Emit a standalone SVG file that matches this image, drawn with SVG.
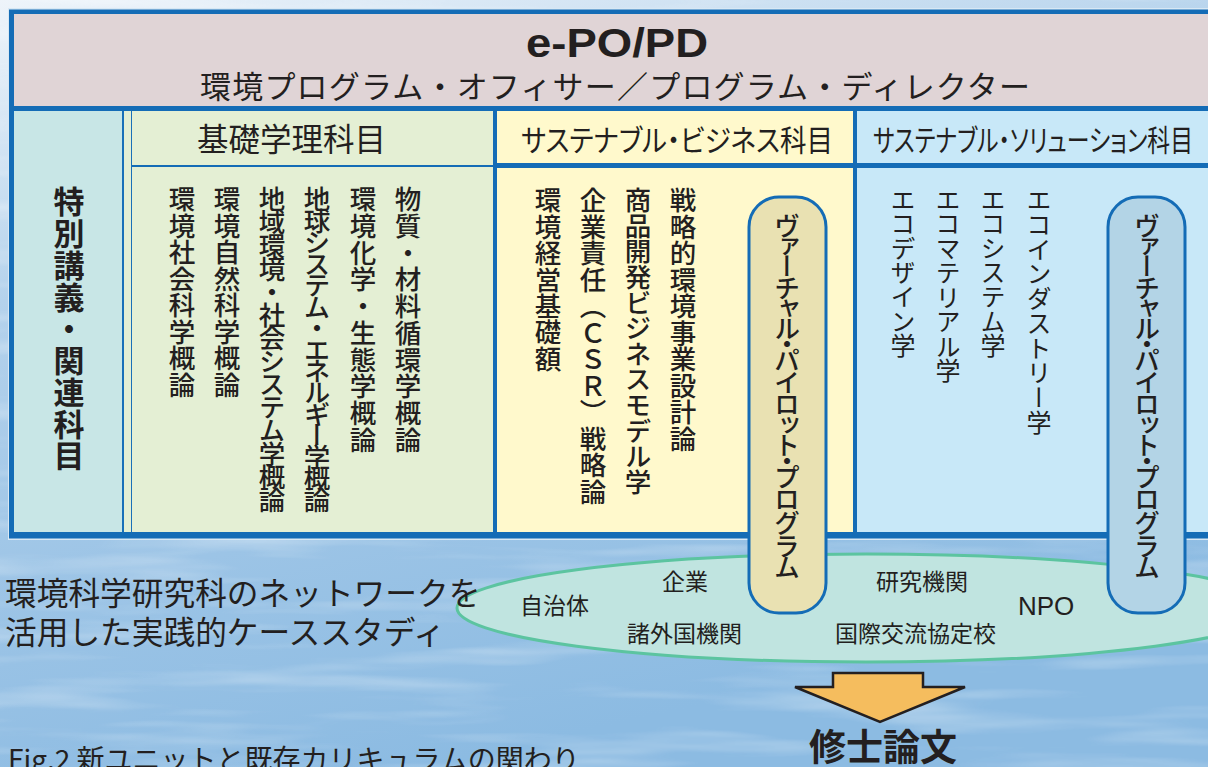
<svg xmlns="http://www.w3.org/2000/svg" width="1208" height="767" viewBox="0 0 1208 767">
<defs>
<linearGradient id="sea" x1="0" y1="0" x2="0.35" y2="1">
<stop offset="0" stop-color="#eef4fa"/>
<stop offset="0.35" stop-color="#b4d2ec"/>
<stop offset="0.7" stop-color="#9cc4e6"/>
<stop offset="1" stop-color="#8cbbe2"/>
</linearGradient>
<filter id="waves" x="0" y="0" width="100%" height="100%">
<feTurbulence type="fractalNoise" baseFrequency="0.004 0.045" numOctaves="3" seed="7"/>
<feColorMatrix type="matrix" values="0 0 0 0 1  0 0 0 0 1  0 0 0 0 1  0 0 0 2.2 -1.05"/>
</filter>
<style>
.jp{font-family:"Noto Sans CJK JP","Noto Sans CJK SC",sans-serif;fill:#231f20}
.lat{font-family:"Liberation Sans",Arial,sans-serif;fill:#231f20}
.v{writing-mode:vertical-rl}
.frame{fill:#146cb6}
.g{font-size:26.5px;font-weight:500}
.b{font-size:26.5px;font-weight:500}
.s{font-size:25px;font-weight:400}
.pill{stroke:#146cb6;stroke-width:3}
.pt{font-size:26px;font-weight:500;font-feature-settings:"vpal"}
.el{font-size:23px}
</style>
</defs>
<rect x="0" y="0" width="1208" height="767" fill="url(#sea)"/>
<rect x="0" y="0" width="1208" height="767" filter="url(#waves)" opacity="0.35"/>

<g id="frame">
<rect x="8" y="8" width="1210" height="532" fill="#d8e8f4"/>
<rect x="9" y="9.5" width="1210" height="529" class="frame"/>
</g>

<g id="header">
<rect x="14" y="14" width="1204" height="92" fill="#e0d4d6"/>
<text class="lat" x="617" y="57" font-size="40" font-weight="bold" text-anchor="middle" textLength="182" lengthAdjust="spacingAndGlyphs">e-PO/PD</text>
<text class="jp" x="615" y="98" font-size="31" text-anchor="middle" textLength="830" lengthAdjust="spacing">環境プログラム・オフィサー／プログラム・ディレクター</text>
</g>

<g id="special">
<rect x="14" y="111" width="108" height="421" fill="#c8e6e6"/>
<rect x="122" y="111" width="10" height="421" fill="#1a70b8"/>
<rect x="124" y="111" width="7" height="421" fill="#e4efd4"/>
<text class="jp v" x="69" y="186" font-size="31" font-weight="bold" textLength="285" lengthAdjust="spacing">特別講義・関連科目</text>
</g>

<g id="basic">
<rect x="132" y="111" width="361" height="54" fill="#e4efd4"/>
<rect x="132" y="167" width="361" height="365" fill="#e4efd4"/>
<text class="jp" x="197" y="151" font-size="31.5">基礎学理科目</text>
<text class="jp v g" x="408" y="186" textLength="267" lengthAdjust="spacing">物質・材料循環学概論</text>
<text class="jp v g" x="363" y="186" textLength="267" lengthAdjust="spacing">環境化学・生態学概論</text>
<text class="jp v g" x="317" y="186" textLength="327" lengthAdjust="spacing">地球システム・エネルギー学概論</text>
<text class="jp v g" x="272" y="186" textLength="327" lengthAdjust="spacing">地域環境・社会システム学概論</text>
<text class="jp v g" x="227" y="186" textLength="212" lengthAdjust="spacing">環境自然科学概論</text>
<text class="jp v g" x="182" y="186" textLength="212" lengthAdjust="spacing">環境社会科学概論</text>
</g>

<g id="business">
<rect x="497" y="111" width="356" height="52" fill="#fff9cc"/>
<rect x="497" y="168" width="356" height="364" fill="#fff9cc"/>
<text class="jp" x="521" y="151" font-size="30" textLength="312" lengthAdjust="spacingAndGlyphs" style="font-feature-settings:'palt'">サステナブル・ビジネス科目</text>
<text class="jp v b" x="683" y="187" textLength="265" lengthAdjust="spacing">戦略的環境事業設計論</text>
<text class="jp v b" x="638" y="187" textLength="308" lengthAdjust="spacing">商品開発ビジネスモデル学</text>
<text class="jp v b" x="593" y="187" textLength="318" lengthAdjust="spacing">企業責任（ＣＳＲ）戦略論</text>
<text class="jp v b" x="548" y="187" textLength="185" lengthAdjust="spacing">環境経営基礎額</text>
</g>

<g id="solution">
<rect x="857" y="111" width="361" height="52" fill="#c8e8f8"/>
<rect x="857" y="168" width="361" height="364" fill="#c8e8f8"/>
<text class="jp" x="873" y="151" font-size="30" textLength="320" lengthAdjust="spacingAndGlyphs" style="font-feature-settings:'palt'">サステナブル・ソリューション科目</text>
<text class="jp v s" x="1039" y="187" textLength="248" lengthAdjust="spacing">エコインダストリー学</text>
<text class="jp v s" x="993" y="187" textLength="171" lengthAdjust="spacing">エコシステム学</text>
<text class="jp v s" x="948" y="187" textLength="196" lengthAdjust="spacing">エコマテリアル学</text>
<text class="jp v s" x="903" y="187" textLength="171" lengthAdjust="spacing">エコデザイン学</text>
</g>

<g id="network">
<ellipse cx="866" cy="608" rx="409" ry="54" fill="#c0e4e0" stroke="#5cc4a0" stroke-width="3"/>
<text class="jp el" x="520" y="614">自治体</text>
<text class="jp el" x="662" y="590">企業</text>
<text class="jp el" x="876" y="590">研究機関</text>
<text class="lat" x="1018" y="615" font-size="26">NPO</text>
<text class="jp el" x="627" y="642">諸外国機関</text>
<text class="jp el" x="835" y="642">国際交流協定校</text>
</g>

<g id="pilot-business">
<rect class="pill" x="749" y="197" width="77" height="416" rx="30" fill="#e9e1b2"/>
<text class="jp v pt" x="787" y="213" textLength="367" lengthAdjust="spacing">ヴァーチャル・パイロット・プログラム</text>
</g>

<g id="pilot-solution">
<rect class="pill" x="1108" y="197" width="77" height="416" rx="30" fill="#b3d4e6"/>
<text class="jp v pt" x="1147" y="213" textLength="367" lengthAdjust="spacing">ヴァーチャル・パイロット・プログラム</text>
</g>

<g id="casestudy">
<text class="jp" x="5" y="605" font-size="31.7">環境科学研究科のネットワークを</text>
<text class="jp" x="5" y="644" font-size="31.7">活用した実践的ケーススタディ</text>
</g>

<g id="connectors">
<polygon points="833,673 923,673 923,687 965,687 880,722 795,687 833,687" fill="#f5bd5e" stroke="#231f20" stroke-width="2.5" stroke-linejoin="miter"/>
</g>

<g id="thesis">
<text class="jp" x="883" y="761" font-size="37" font-weight="bold" text-anchor="middle">修士論文</text>
</g>

<g id="caption">
<text class="jp" x="8" y="770" font-size="28">Fig.2  新ユニットと既存カリキュラムの関わり</text>
</g>
</svg>
